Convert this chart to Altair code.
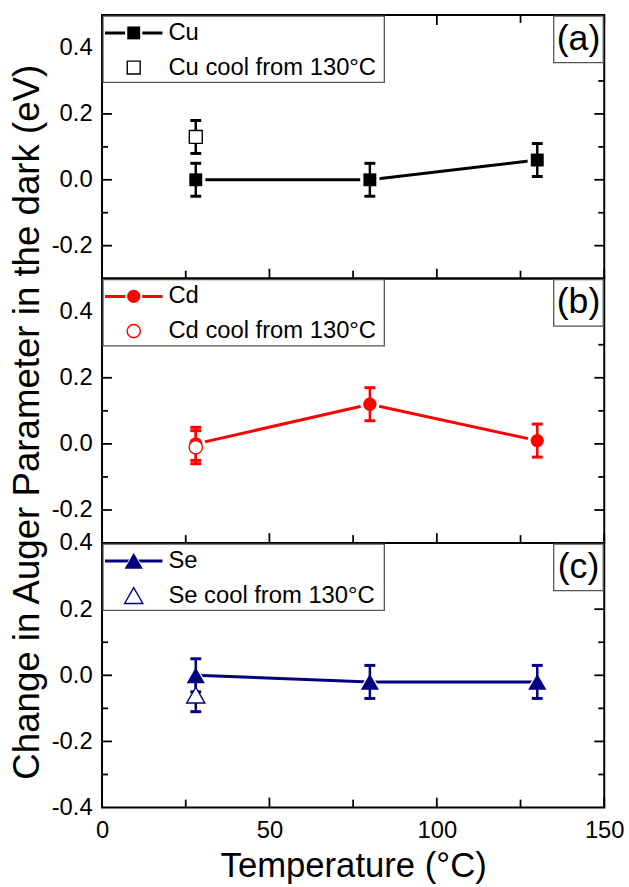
import altair as alt
import pandas as pd

FONT = "Liberation Sans"
W = 507
HEIGHTS = [266, 267, 267]

# ---------------- data ----------------
temps = [28, 80, 130]
cool_temp = [28]

cu_vals = [0.0, 0.0, 0.06]
cu_err = [0.05, 0.05, 0.05]
cu_cool_vals = [0.13]
cu_cool_err = [0.05]

cd_vals = [0.0, 0.12, 0.01]
cd_err = [0.05, 0.05, 0.05]
cd_cool_vals = [-0.01]
cd_cool_err = [0.05]

se_vals = [0.0, -0.02, -0.02]
se_err = [0.05, 0.05, 0.05]
se_cool_vals = [-0.06]
se_cool_err = [0.05]

x_labels = [0, 50, 100, 150]
x_major = [0, 50, 100, 150]
x_minor = [25, 75, 125]

ab_labels = [-0.2, 0.0, 0.2, 0.4]
ab_major = [-0.2, 0.0, 0.2, 0.4]
ab_minor = [-0.1, 0.1, 0.3]
c_labels = [-0.4, -0.2, 0.0, 0.2, 0.4]
c_major = [-0.2, 0.0, 0.2]
c_minor = [-0.3, -0.1, 0.1, 0.3]

cu_legend = ["Cu", "Cu cool from 130°C"]
cd_legend = ["Cd", "Cd cool from 130°C"]
se_legend = ["Se", "Se cool from 130°C"]
panel_tags = ["(a)", "(b)", "(c)"]

x_title = "Temperature (°C)"
y_title = ["Change in Auger Parameter in the dark (eV)"]

panels = [
    dict(vals=cu_vals, err=cu_err, cool=cu_cool_vals, cool_err=cu_cool_err,
         legend=cu_legend, tag=panel_tags[0], domain=[-0.3, 0.5],
         labels=ab_labels, major=ab_major, minor=ab_minor,
         color="#000000", shape="square", size=170, halo=380),
    dict(vals=cd_vals, err=cd_err, cool=cd_cool_vals, cool_err=cd_cool_err,
         legend=cd_legend, tag=panel_tags[1], domain=[-0.3, 0.5],
         labels=ab_labels, major=ab_major, minor=ab_minor,
         color="#FF0000", shape="circle", size=180, halo=380),
    dict(vals=se_vals, err=se_err, cool=se_cool_vals, cool_err=se_cool_err,
         legend=se_legend, tag=panel_tags[2], domain=[-0.4, 0.4],
         labels=c_labels, major=c_major, minor=c_minor,
         color="#000080", shape="triangle-up", size=340, halo=620),
]

LABEL_EXPR = ("datum.value < 0 ? '-' + format(-datum.value, '.1f') "
              ": format(datum.value, '.1f')")
CAP = "M-1,0L1,0"


def make_panel(p, H, bottom, top, with_ytitle):
    xs = alt.Scale(domain=[0, 150], nice=False, zero=False)
    ys = alt.Scale(domain=p["domain"], nice=False, zero=False)
    if bottom:
        xaxis = alt.Axis(values=x_labels, format="d", labelFont=FONT, labelFontSize=24,
                         labelColor="black", labelFlush=False, labelOverlap=False,
                         labelPadding=11, ticks=False, tickSize=0, domain=False,
                         grid=False, title=x_title, titleFont=FONT, titleFontSize=35,
                         titleFontWeight="normal", titleColor="black", titlePadding=7)
    else:
        xaxis = None
    yaxis = alt.Axis(values=p["labels"], labelExpr=LABEL_EXPR, labelFont=FONT,
                     labelFontSize=24, labelColor="black", labelOverlap=False,
                     labelPadding=10, ticks=False, tickSize=0, domain=False,
                     grid=False, title=None)

    def X(f):
        return alt.X(f, type="quantitative", scale=xs, axis=xaxis)

    def Y(f):
        return alt.Y(f, type="quantitative", scale=ys, axis=yaxis)

    c = p["color"]
    layers = []
    # inward ticks
    for vals, ln in ((p["major"], 10), (p["minor"], 6)):
        d = pd.DataFrame({"V": vals})
        layers.append(alt.Chart(d).mark_rule(color="black", strokeWidth=1.8).encode(
            x=alt.value(0), x2=alt.value(ln), y=Y("V")))
        layers.append(alt.Chart(d).mark_rule(color="black", strokeWidth=1.8).encode(
            x=alt.value(W), x2=alt.value(W - ln), y=Y("V")))
    for vals, ln in ((x_major, 10), (x_minor, 8)):
        d = pd.DataFrame({"T": vals})
        layers.append(alt.Chart(d).mark_rule(color="black", strokeWidth=1.8).encode(
            x=X("T"), y=alt.value(H), y2=alt.value(H - ln)))
        if top:
            layers.append(alt.Chart(d).mark_rule(color="black", strokeWidth=1.8).encode(
                x=X("T"), y=alt.value(0), y2=alt.value(ln)))

    # main series
    sd = pd.DataFrame({"T": temps, "V": p["vals"], "E": p["err"]})
    sd["lo"] = sd["V"] - sd["E"]
    sd["hi"] = sd["V"] + sd["E"]
    base = alt.Chart(sd)
    layers.append(base.mark_line(color=c, strokeWidth=3).encode(x=X("T"), y=Y("V")))
    layers.append(base.mark_point(shape=p["shape"], filled=True, size=p["halo"],
                                  color="white", opacity=1).encode(x=X("T"), y=Y("V")))
    layers.append(base.mark_point(shape=p["shape"], filled=True, size=p["size"],
                                  color=c, opacity=1).encode(x=X("T"), y=Y("V")))
    layers.append(base.mark_rule(color=c, strokeWidth=2.5).encode(
        x=X("T"), y=Y("lo"), y2=alt.Y2("hi")))
    for f in ("lo", "hi"):
        layers.append(base.mark_point(shape=CAP, filled=False, size=121, color=c,
                                      strokeWidth=3, opacity=1).encode(x=X("T"), y=Y(f)))

    # cooled point
    cd = pd.DataFrame({"T": cool_temp, "V": p["cool"], "E": p["cool_err"]})
    cd["lo"] = cd["V"] - cd["E"]
    cd["hi"] = cd["V"] + cd["E"]
    cb = alt.Chart(cd)
    layers.append(cb.mark_rule(color=c, strokeWidth=2.5).encode(
        x=X("T"), y=Y("lo"), y2=alt.Y2("hi")))
    for f in ("lo", "hi"):
        layers.append(cb.mark_point(shape=CAP, filled=False, size=121, color=c,
                                    strokeWidth=3, opacity=1).encode(x=X("T"), y=Y(f)))
    layers.append(cb.mark_point(shape=p["shape"], filled=False, fill="white", stroke=c,
                                strokeWidth=1.4, size=p["size"], opacity=1).encode(
        x=X("T"), y=Y("V")))

    # legend box
    one = pd.DataFrame({"k": [1]})
    layers.append(alt.Chart(one).mark_rect(fill="white", stroke="#555555", strokeWidth=1.3).encode(
        x=alt.value(1), x2=alt.value(285), y=alt.value(1), y2=alt.value(68)))
    r1, r2 = 18, 53
    layers.append(alt.Chart(one).mark_rule(color=c, strokeWidth=3).encode(
        x=alt.value(3), x2=alt.value(61), y=alt.value(r1)))
    layers.append(alt.Chart(one).mark_point(shape=p["shape"], filled=True, size=p["halo"] * 0.8,
                                            color="white", opacity=1).encode(
        x=alt.value(32), y=alt.value(r1)))
    layers.append(alt.Chart(one).mark_point(shape=p["shape"], filled=True, size=p["size"],
                                            color=c, opacity=1).encode(
        x=alt.value(32), y=alt.value(r1)))
    layers.append(alt.Chart(one).mark_point(shape=p["shape"], filled=False, fill="white",
                                            stroke=c, strokeWidth=1.4, size=p["size"],
                                            opacity=1).encode(
        x=alt.value(32), y=alt.value(r2)))
    for lab, yy in zip(p["legend"], (r1, r2)):
        layers.append(alt.Chart(pd.DataFrame({"label": [lab]})).mark_text(
            align="left", baseline="middle", font=FONT, fontSize=24, color="black").encode(
            x=alt.value(67), y=alt.value(yy), text="label:N"))

    # panel tag box
    layers.append(alt.Chart(one).mark_rect(fill="white", stroke="#555555", strokeWidth=1.3).encode(
        x=alt.value(456), x2=alt.value(506), y=alt.value(1), y2=alt.value(48)))
    layers.append(alt.Chart(pd.DataFrame({"label": [p["tag"]]})).mark_text(
        align="center", baseline="middle", font=FONT, fontSize=36, color="black").encode(
        x=alt.value(481), y=alt.value(24), text="label:N"))

    if with_ytitle:
        layers.append(alt.Chart(pd.DataFrame({"label": y_title})).mark_text(
            align="center", baseline="middle", angle=270, font=FONT, fontSize=37,
            color="black").encode(x=alt.value(-75), y=alt.value(145), text="label:N"))

    return alt.layer(*layers).properties(width=W, height=H)


charts = []
for i, (p, H) in enumerate(zip(panels, HEIGHTS)):
    charts.append(make_panel(p, H, bottom=(i == 2), top=(i == 0), with_ytitle=(i == 1)))

chart = alt.vconcat(*charts, spacing=0).properties(
    bounds="flush",
    padding={"left": 7, "top": 9, "right": 3, "bottom": 2},
).configure_view(stroke="black", strokeWidth=2).configure_concat(spacing=0)

chart.save("out.html", embed_options={"renderer": "svg", "actions": False})
